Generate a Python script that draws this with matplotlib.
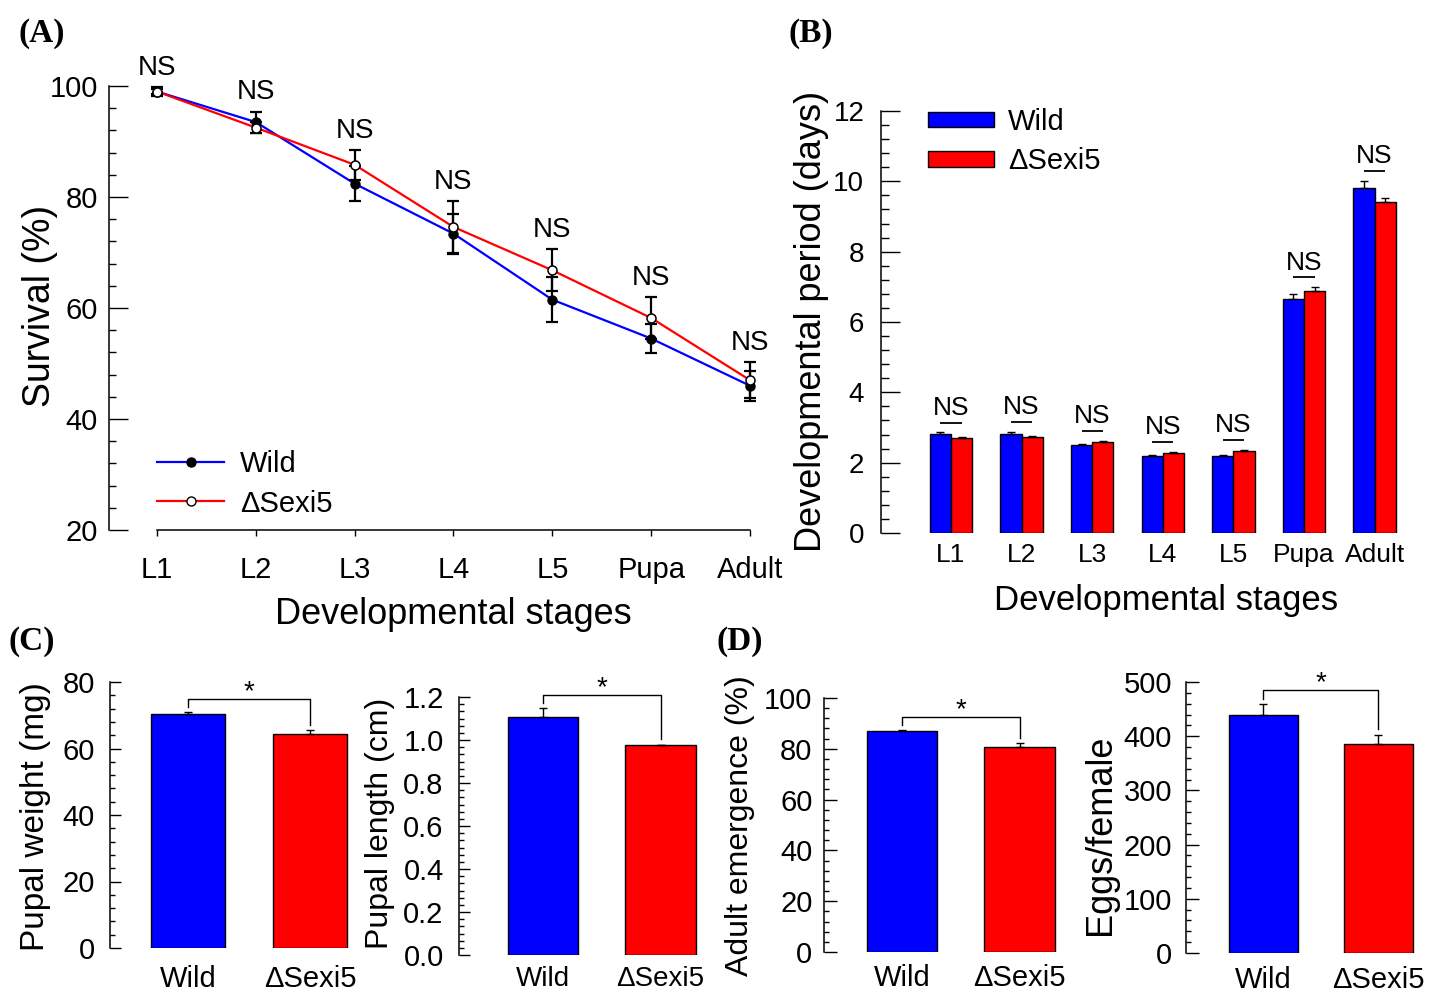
import matplotlib
matplotlib.use("Agg")
import numpy as np
import matplotlib.pyplot as plt
from matplotlib.ticker import FixedLocator, FormatStrFormatter
from matplotlib.lines import Line2D

plt.rcParams.update({
    "font.family": ["Liberation Sans", "DejaVu Sans"],
    "axes.linewidth": 1.1,
})

# ---------------- data ----------------
stages = ["L1", "L2", "L3", "L4", "L5", "Pupa", "Adult"]

surv_wild = [99.0, 93.5, 82.4, 73.4, 61.5, 54.5, 46.0]
surv_wild_err = [0.8, 1.9, 3.1, 3.6, 4.0, 2.6, 2.7]
surv_sexi = [99.0, 92.5, 85.8, 74.6, 66.8, 58.2, 47.0]
surv_sexi_err = [0.5, 1.0, 2.7, 4.7, 3.8, 3.8, 3.2]

dev_wild = [2.81, 2.82, 2.50, 2.18, 2.18, 6.66, 9.82]
dev_wild_err = [0.05, 0.05, 0.02, 0.04, 0.04, 0.14, 0.19]
dev_sexi = [2.71, 2.73, 2.59, 2.28, 2.32, 6.89, 9.42]
dev_sexi_err = [0.03, 0.04, 0.04, 0.03, 0.05, 0.10, 0.12]

groups = ["Wild", "\u0394Sexi5"]
pupal_weight = [70.5, 64.5]
pupal_weight_err = [0.4, 1.0]
pupal_length = [1.107, 0.979]
pupal_length_err = [0.04, 0.0]
emergence = [87.2, 80.9]
emergence_err = [0.3, 1.2]
eggs = [438.5, 385.0]
eggs_err = [21.0, 18.0]

BLUE = "#0000FF"
RED = "#FF0000"

W, H = 1442, 993
fig = plt.figure(figsize=(W / 100, H / 100), dpi=100)


def make_axes(spine_x, right_x, top_y, ybot_px, ytop_px, ybot, ytop, xc0_px, xstep_px):
    ax = fig.add_axes([spine_x / W, 1 - ybot_px / H,
                       (right_x - spine_x) / W, (ybot_px - top_y) / H])
    ppu = (ybot_px - ytop_px) / (ytop - ybot)
    ax.set_ylim(ybot, ytop + (ytop_px - top_y) / ppu)
    ax.set_xlim(-(xc0_px - spine_x) / xstep_px, (right_x - xc0_px) / xstep_px)
    ax.set_facecolor("none")
    for s in ["top", "right", "bottom"]:
        ax.spines[s].set_visible(False)
    ax.spines["left"].set_bounds(ybot, ytop)
    return ax


def style_y(ax, ybot, ytop, major, minor, maj_len, min_len, pad, size):
    ax.yaxis.set_major_locator(FixedLocator(np.arange(ybot, ytop + major / 2, major)))
    ax.yaxis.set_minor_locator(FixedLocator(np.arange(ybot, ytop + minor / 2, minor)))
    ax.tick_params(axis="y", which="major", direction="in", length=maj_len,
                   width=1.0, pad=pad, labelsize=size)
    ax.tick_params(axis="y", which="minor", direction="in", length=min_len, width=1.0)


def ftext(x, y, s, **kw):
    fig.text(x / W, 1 - y / H, s, **kw)


def ylab(x, y, s, size):
    ftext(x, y, s, rotation=90, rotation_mode="anchor", ha="center",
          va="baseline", fontsize=size)


def panel(x, y, s):
    ftext(x, y, s, fontsize=24, fontweight="bold", family="Liberation Serif",
          ha="left", va="baseline")


# ---------------- (A) survival ----------------
axA = make_axes(109, 765, 60, 530, 86, 20, 100, 157, 98.83)
xs = np.arange(len(stages))
axA.plot(xs, surv_wild, color=BLUE, lw=1.6, zorder=2)
axA.plot(xs, surv_sexi, color=RED, lw=1.6, zorder=2)
axA.errorbar(xs, surv_wild, yerr=surv_wild_err, fmt="none", ecolor="black",
             elinewidth=1.6, capsize=4.5, capthick=1.6, zorder=3)
axA.errorbar(xs, surv_sexi, yerr=surv_sexi_err, fmt="none", ecolor="black",
             elinewidth=1.6, capsize=4.5, capthick=1.6, zorder=3)
axA.plot(xs, surv_wild, "o", ms=6.5, mfc="black", mec="black", zorder=4)
axA.plot(xs, surv_sexi, "o", ms=6.5, mfc="white", mec="black", mew=1.1, zorder=5)
for i in xs:
    top = max(surv_wild[i] + surv_wild_err[i], surv_sexi[i] + surv_sexi_err[i])
    axA.text(i, top + 2.2, "NS", ha="center", va="baseline", fontsize=20)
axA.spines["bottom"].set_visible(True)
axA.spines["bottom"].set_bounds(0, len(stages) - 1)
axA.set_xticks(xs)
axA.set_xticklabels(stages)
axA.tick_params(axis="x", direction="out", length=4, width=1.0, pad=15, labelsize=21)
style_y(axA, 20, 100, 20, 4, 14, 5, 8, 21)
handlesA = [
    Line2D([], [], color=BLUE, lw=1.6, marker="o", ms=6.5, mfc="black", mec="black"),
    Line2D([], [], color=RED, lw=1.6, marker="o", ms=6.5, mfc="white", mec="black"),
]
axA.legend(handlesA, ["Wild", "\u0394Sexi5"], loc="upper left", frameon=False,
           bbox_to_anchor=((157 - 109) / (765 - 109), 1 - (450 - 60) / (530 - 60)),
           borderpad=0, borderaxespad=0, fontsize=21, handlelength=2.3,
           handletextpad=0.55, labelspacing=0.4)
ylab(50, 306, "Survival (%)", 27)
ftext(453, 624, "Developmental stages", ha="center", va="baseline", fontsize=26)
panel(18, 42, "(A)")

# ---------------- (B) developmental period ----------------
axB = make_axes(881, 1412, 100, 533, 111, 0, 12, 951, 70.6)
bw = 0.3
axB.bar(xs - bw / 2, dev_wild, bw, color=BLUE, edgecolor="black", lw=1.0, label="Wild")
axB.bar(xs + bw / 2, dev_sexi, bw, color=RED, edgecolor="black", lw=1.0, label="\u0394Sexi5")
axB.errorbar(xs - bw / 2, dev_wild, yerr=[np.zeros(7), dev_wild_err], fmt="none",
             ecolor="black", elinewidth=1.0, capsize=3, capthick=1.0)
axB.errorbar(xs + bw / 2, dev_sexi, yerr=[np.zeros(7), dev_sexi_err], fmt="none",
             ecolor="black", elinewidth=1.0, capsize=3, capthick=1.0)
for i in xs:
    top = max(dev_wild[i] + dev_wild_err[i], dev_sexi[i] + dev_sexi_err[i])
    axB.hlines(top + 0.28, i - 0.15, i + 0.15, color="black", lw=1.3)
    axB.text(i, top + 0.5, "NS", ha="center", va="baseline", fontsize=19)
axB.set_xticks(xs)
axB.set_xticklabels(stages)
axB.tick_params(axis="x", length=0, pad=7, labelsize=19)
style_y(axB, 0, 12, 2, 0.4, 14, 5.5, 12, 20)
axB.legend(loc="upper left", frameon=False,
           bbox_to_anchor=((928 - 881) / (1412 - 881), 1 - (108 - 100) / (533 - 100)),
           borderpad=0, borderaxespad=0, fontsize=21, handlelength=2.25,
           handleheight=0.45, handletextpad=0.5, labelspacing=0.38)
ylab(821, 321, "Developmental period (days)", 26)
ftext(1166, 610, "Developmental stages", ha="center", va="baseline", fontsize=25)
panel(788, 42, "(B)")


# ---------------- (C) and (D) two-bar panels ----------------
def two_bar(ax, vals, errs, rng):
    x = np.arange(2)
    ax.bar(x, vals, 0.6, color=[BLUE, RED], edgecolor="black", lw=1.0)
    ax.errorbar(x, vals, yerr=[np.zeros(2), errs], fmt="none", ecolor="black",
                elinewidth=1.0, capsize=3, capthick=1.0)
    tops = np.array(vals) + np.array(errs)
    by = tops.max() + 0.05 * rng
    ax.plot([0, 0, 1, 1], [tops[0] + 0.02 * rng, by, by, tops[1] + 0.02 * rng],
            color="black", lw=1.0)
    ax.text(0.5, by, "*", ha="center", va="baseline", fontsize=20)
    ax.set_xticks(x)
    ax.set_xticklabels(groups)


axC1 = make_axes(110, 360, 660, 948, 682, 0, 80, 188, 122)
two_bar(axC1, pupal_weight, pupal_weight_err, 80)
axC1.tick_params(axis="x", length=0, pad=12, labelsize=21)
style_y(axC1, 0, 80, 20, 4, 8, 3.3, 11, 21)
ylab(44, 817, "Pupal weight (mg)", 24)

axC2 = make_axes(459, 710, 660, 955, 697, 0, 1.2, 543, 117.5)
two_bar(axC2, pupal_length, pupal_length_err, 1.2)
axC2.tick_params(axis="x", length=0, pad=8, labelsize=20)
style_y(axC2, 0, 1.2, 0.2, 0.2 / 6, 8, 3.3, 11, 21)
axC2.yaxis.set_major_formatter(FormatStrFormatter("%.1f"))
ylab(388, 823, "Pupal length (cm)", 23)
panel(8, 650, "(C)")

axD1 = make_axes(823.5, 1065, 660, 952, 698, 0, 100, 902, 117.5)
two_bar(axD1, emergence, emergence_err, 100)
axD1.tick_params(axis="x", length=0, pad=9, labelsize=21)
style_y(axD1, 0, 100, 20, 4, 9, 3.3, 8, 21)
ylab(748, 826, "Adult emergence (%)", 23)

axD2 = make_axes(1186, 1432, 660, 953, 682, 0, 500, 1263, 115)
two_bar(axD2, eggs, eggs_err, 500)
axD2.tick_params(axis="x", length=0, pad=9, labelsize=21)
style_y(axD2, 0, 500, 100, 20, 9, 3.3, 10, 21)
ylab(1110, 835, "Eggs/female", 26)
panel(717, 650, "(D)")

fig.savefig("out.png", dpi=100)
